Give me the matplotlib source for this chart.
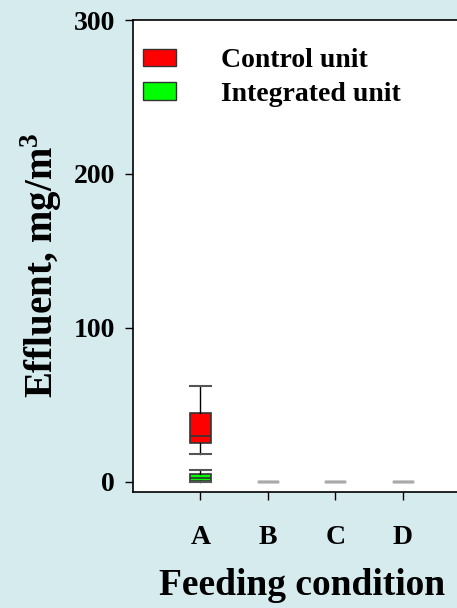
import matplotlib.pyplot as plt
from matplotlib.patches import Patch

plt.rcParams['font.family'] = ['Liberation Serif', 'DejaVu Serif']
plt.rcParams['font.weight'] = 'bold'
plt.rcParams['mathtext.fontset'] = 'custom'
plt.rcParams['mathtext.rm'] = 'Liberation Serif:bold'
plt.rcParams['mathtext.bf'] = 'Liberation Serif:bold'

# feeding conditions and box statistics
conditions = ['A', 'B', 'C', 'D']
control_q1 = [25, 0.4, 0.4, 0.4]
control_med = [30, 0.4, 0.4, 0.4]
control_q3 = [44.6, 0.4, 0.4, 0.4]
control_lo = [18.2, 0.4, 0.4, 0.4]
control_hi = [62.5, 0.4, 0.4, 0.4]

integ_q1 = [0.6, 0, 0, 0]
integ_med = [2.4, 0, 0, 0]
integ_q3 = [5.4, 0, 0, 0]
integ_lo = [0.2, 0, 0, 0]
integ_hi = [7.8, 0, 0, 0]

bg = '#d6ebee'
fig = plt.figure(figsize=(4.57, 6.08), dpi=100, facecolor=bg)
ax = fig.add_axes([0.291, 0.191, 0.738, 0.776])
ax.set_facecolor('white')

def stats(lo, q1, med, q3, hi):
    out = []
    for i in range(len(lo)):
        out.append({'whislo': lo[i], 'q1': q1[i], 'med': med[i], 'q3': q3[i], 'whishi': hi[i], 'fliers': []})
    return out

pos = list(range(1, len(conditions) + 1))
for st, col in [(stats(control_lo, control_q1, control_med, control_q3, control_hi), '#ff0000'),
                (stats(integ_lo, integ_q1, integ_med, integ_q3, integ_hi), '#00ff00')]:
    # first box has real spread, the rest are flat lines
    ax.bxp(st[:1], positions=pos[:1], widths=0.3, capwidths=0.3, patch_artist=True, showfliers=False,
           boxprops=dict(facecolor=col, edgecolor='#333333', linewidth=1.2),
           medianprops=dict(color='#333333', linewidth=1.2),
           whiskerprops=dict(color='black', linewidth=1),
           capprops=dict(color='#555555', linewidth=1.5))
    ax.bxp(st[1:], positions=pos[1:], widths=0.3, capwidths=0.3, patch_artist=True, showfliers=False,
           boxprops=dict(facecolor='none', edgecolor='#aaaaaa', linewidth=1),
           medianprops=dict(color='#aaaaaa', linewidth=1),
           whiskerprops=dict(color='#aaaaaa', linewidth=1),
           capprops=dict(color='#aaaaaa', linewidth=1))

ax.set_xlim(0, 5)
ax.set_ylim(-6.5, 300)
ax.set_xticks(pos)
ax.set_xticklabels(conditions)
ax.set_yticks([0, 100, 200, 300])
ax.tick_params(axis='both', direction='out', length=6, width=1, labelsize=20)
ax.tick_params(axis='x', pad=18)
ax.tick_params(axis='y', pad=7)
for s in ax.spines.values():
    s.set_linewidth(1.2)

ax.set_xlabel('Feeding condition', fontsize=27, fontweight='bold', labelpad=13)
ax.set_ylabel('Effluent, mg/m$^\\mathrm{3}$', fontsize=28, fontweight='bold')
ax.yaxis.set_label_coords(-0.205, 0.481)

handles = [Patch(facecolor='#ff0000', edgecolor='#333333'), Patch(facecolor='#00ff00', edgecolor='#333333')]
ax.legend(handles, ['Control unit', 'Integrated unit'], loc='upper left', frameon=False,
          prop={'size': 20, 'weight': 'bold'}, handlelength=1.2, handleheight=0.6,
          handletextpad=1.6, borderpad=0, borderaxespad=0,
          bbox_to_anchor=(0.03, 0.94), labelspacing=0.3)

fig.savefig('out.png', dpi=100, facecolor=bg)
